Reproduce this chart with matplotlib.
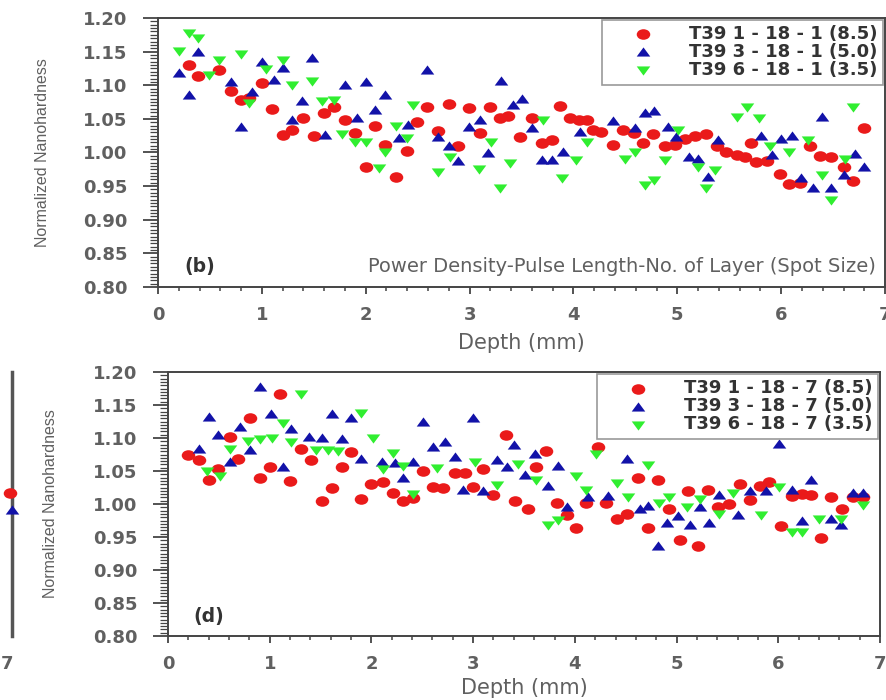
import matplotlib
matplotlib.use("Agg")
import matplotlib.pyplot as plt
from matplotlib.path import Path
from matplotlib.ticker import MultipleLocator, FormatStrFormatter
from matplotlib.transforms import Affine2D

plt.rcParams['font.family'] = ['DejaVu Sans']

# panel (b): T39 x - 18 - 1
b_red_x = [0.30, 0.39, 0.59, 0.70, 0.80, 0.88, 1.00, 1.10, 1.20, 1.29, 1.40, 1.50, 1.60, 1.69,
           1.80, 1.90, 2.00, 2.09, 2.19, 2.29, 2.40, 2.49, 2.59, 2.70, 2.80, 2.89, 2.99, 3.10,
           3.20, 3.29, 3.37, 3.49, 3.60, 3.70, 3.79, 3.87, 3.97, 4.05, 4.13, 4.19, 4.27, 4.38,
           4.48, 4.58, 4.67, 4.77, 4.88, 4.98, 5.07, 5.17, 5.28, 5.38, 5.47, 5.57, 5.65, 5.71,
           5.76, 5.86, 5.99, 6.08, 6.18, 6.28, 6.37, 6.48, 6.60, 6.69, 6.80]
b_red_y = [1.130, 1.114, 1.122, 1.091, 1.078, 1.081, 1.104, 1.064, 1.026, 1.034, 1.052, 1.024,
           1.059, 1.067, 1.049, 1.029, 0.979, 1.039, 1.011, 0.964, 1.002, 1.046, 1.068, 1.032,
           1.072, 1.009, 1.066, 1.029, 1.067, 1.052, 1.054, 1.023, 1.051, 1.014, 1.018, 1.069,
           1.052, 1.049, 1.048, 1.033, 1.031, 1.011, 1.034, 1.029, 1.014, 1.028, 1.009, 1.011,
           1.020, 1.024, 1.028, 1.009, 1.001, 0.996, 0.994, 1.014, 0.986, 0.988, 0.968, 0.953,
           0.955, 1.009, 0.995, 0.994, 0.979, 0.957, 1.036]

b_blue_x = [0.20, 0.30, 0.39, 0.70, 0.80, 0.91, 1.00, 1.12, 1.20, 1.29, 1.39, 1.48, 1.61, 1.80,
            1.92, 2.00, 2.09, 2.19, 2.32, 2.41, 2.59, 2.70, 2.80, 2.89, 2.99, 3.10, 3.18, 3.30,
            3.42, 3.50, 3.60, 3.70, 3.79, 3.90, 4.06, 4.38, 4.59, 4.69, 4.78, 4.91, 4.99, 5.11,
            5.20, 5.30, 5.39, 5.81, 5.91, 6.00, 6.10, 6.19, 6.31, 6.39, 6.48, 6.60, 6.71, 6.80]
b_blue_y = [1.118, 1.085, 1.149, 1.105, 1.038, 1.090, 1.135, 1.108, 1.125, 1.049, 1.076, 1.140,
            1.026, 1.100, 1.052, 1.105, 1.063, 1.085, 1.021, 1.041, 1.123, 1.023, 1.009, 0.988,
            1.038, 1.048, 0.999, 1.106, 1.071, 1.079, 1.036, 0.989, 0.989, 1.001, 1.031, 1.047,
            1.037, 1.058, 1.061, 1.038, 1.023, 0.994, 0.990, 0.964, 1.019, 1.025, 0.996, 1.020,
            1.024, 0.962, 0.947, 1.053, 0.947, 0.967, 0.998, 0.979]

b_green_x = [0.20, 0.30, 0.39, 0.49, 0.59, 0.80, 0.88, 1.04, 1.20, 1.29, 1.48, 1.58, 1.69, 1.77,
             1.90, 2.00, 2.13, 2.19, 2.29, 2.40, 2.46, 2.70, 2.81, 3.09, 3.21, 3.29, 3.39, 3.71,
             3.89, 4.02, 4.13, 4.50, 4.59, 4.69, 4.78, 4.88, 5.01, 5.20, 5.28, 5.36, 5.57, 5.67,
             5.79, 5.89, 6.08, 6.26, 6.39, 6.48, 6.61, 6.69]
b_green_y = [1.151, 1.177, 1.170, 1.115, 1.137, 1.147, 1.074, 1.124, 1.137, 1.100, 1.107, 1.076,
             1.078, 1.028, 1.016, 1.016, 0.977, 1.001, 1.039, 1.021, 1.071, 0.971, 0.994, 0.975,
             1.016, 0.947, 0.984, 1.048, 0.962, 0.989, 1.016, 0.991, 1.001, 0.952, 0.959, 0.989,
             1.033, 0.979, 0.947, 0.974, 1.053, 1.067, 1.052, 1.009, 1.001, 1.019, 0.967, 0.929,
             0.991, 1.067]

# panel (d): T39 x - 18 - 7
d_red_x = [0.20, 0.30, 0.40, 0.49, 0.61, 0.69, 0.81, 0.90, 1.00, 1.10, 1.20, 1.31, 1.41, 1.51,
           1.61, 1.71, 1.80, 1.90, 2.00, 2.11, 2.21, 2.31, 2.41, 2.51, 2.61, 2.70, 2.82, 2.92,
           3.00, 3.10, 3.20, 3.32, 3.41, 3.54, 3.62, 3.72, 3.82, 3.92, 4.01, 4.11, 4.23, 4.31,
           4.41, 4.51, 4.62, 4.72, 4.82, 4.93, 5.03, 5.11, 5.21, 5.31, 5.41, 5.52, 5.62, 5.72,
           5.82, 5.91, 6.03, 6.13, 6.23, 6.32, 6.42, 6.52, 6.63, 6.73, 6.83]
d_red_y = [1.074, 1.067, 1.036, 1.053, 1.101, 1.068, 1.130, 1.040, 1.056, 1.167, 1.035, 1.083,
           1.067, 1.005, 1.025, 1.056, 1.079, 1.007, 1.030, 1.034, 1.017, 1.004, 1.009, 1.050,
           1.026, 1.024, 1.047, 1.047, 1.026, 1.053, 1.014, 1.104, 1.005, 0.993, 1.056, 1.081,
           1.002, 0.983, 0.963, 1.002, 1.087, 1.002, 0.978, 0.985, 1.040, 0.963, 1.037, 0.993,
           0.946, 1.019, 0.936, 1.021, 0.995, 1.000, 1.030, 1.006, 1.027, 1.034, 0.967, 1.012,
           1.015, 1.014, 0.948, 1.010, 0.992, 1.010, 1.010]

d_blue_x = [0.30, 0.40, 0.49, 0.61, 0.71, 0.81, 0.90, 1.01, 1.13, 1.21, 1.39, 1.51, 1.61, 1.71,
            1.80, 1.90, 2.10, 2.23, 2.31, 2.41, 2.51, 2.61, 2.72, 2.82, 2.90, 3.00, 3.10, 3.23,
            3.33, 3.40, 3.51, 3.61, 3.74, 3.83, 3.92, 4.13, 4.33, 4.51, 4.64, 4.72, 4.82, 4.91,
            5.01, 5.13, 5.23, 5.32, 5.42, 5.60, 5.72, 5.88, 6.01, 6.13, 6.23, 6.32, 6.52, 6.62,
            6.73, 6.83]
d_blue_y = [1.084, 1.132, 1.105, 1.064, 1.117, 1.082, 1.178, 1.137, 1.056, 1.113, 1.101, 1.100,
            1.137, 1.098, 1.130, 1.068, 1.064, 1.062, 1.040, 1.063, 1.125, 1.087, 1.094, 1.072,
            1.021, 1.131, 1.019, 1.066, 1.056, 1.090, 1.044, 1.076, 1.027, 1.058, 0.996, 1.010,
            1.012, 1.068, 0.993, 0.997, 0.936, 0.971, 0.982, 0.968, 0.996, 0.971, 1.014, 0.983,
            1.019, 1.019, 1.091, 1.021, 0.975, 1.036, 0.978, 0.968, 1.017, 1.017]

d_green_x = [0.38, 0.51, 0.61, 0.79, 0.90, 1.02, 1.13, 1.21, 1.31, 1.46, 1.57, 1.67, 1.90, 2.02,
             2.11, 2.21, 2.31, 2.41, 2.64, 3.02, 3.23, 3.44, 3.62, 3.74, 3.83, 4.01, 4.11, 4.21,
             4.41, 4.52, 4.72, 4.83, 4.93, 5.10, 5.23, 5.42, 5.55, 5.83, 6.01, 6.13, 6.23, 6.40,
             6.62, 6.83]
d_green_y = [1.050, 1.042, 1.084, 1.096, 1.098, 1.100, 1.123, 1.094, 1.167, 1.082, 1.082, 1.081,
             1.138, 1.100, 1.053, 1.078, 1.058, 1.015, 1.054, 1.063, 1.029, 1.061, 1.037, 0.968,
             0.976, 1.042, 1.022, 1.076, 1.032, 1.010, 1.059, 1.002, 1.011, 0.995, 1.007, 0.985,
             1.016, 0.983, 1.026, 0.958, 0.958, 0.977, 0.977, 0.998]

# last points of neighbouring panel (c), cut by the left border
c_red_x, c_red_y = [7.03], [1.017]
c_blue_x, c_blue_y = [7.05], [0.991]

b_labels = ["T39 1 - 18 - 1 (8.5)", "T39 3 - 18 - 1 (5.0)", "T39 6 - 18 - 1 (3.5)"]
d_labels = ["T39 1 - 18 - 7 (8.5)", "T39 3 - 18 - 7 (5.0)", "T39 6 - 18 - 7 (3.5)"]

RED = '#ea1a1a'
BLUE = '#1212a8'
GREEN = '#30ee30'
GREY = '#606060'
DARK = '#444444'

# the source figure is stretched sideways, so the markers are too
ELLIPSE = Path.unit_circle().transformed(Affine2D().scale(1.0, 0.78))
TRI_UP = [(-1.0, -0.6), (1.0, -0.6), (0.0, 0.75)]
TRI_DOWN = [(-1.0, 0.6), (1.0, 0.6), (0.0, -0.75)]
STYLES = [(RED, ELLIPSE), (BLUE, TRI_UP), (GREEN, TRI_DOWN)]


def draw_panel(ax, series, labels, tag, ylab_x, xlab_y, note=None):
    for (x, y), lab, (c, m) in zip(series, labels, STYLES):
        ax.scatter(x, y, s=95, c=c, marker=m, linewidths=0, label=lab, zorder=3)
    ax.set_xlim(0, 7)
    ax.set_ylim(0.80, 1.20)
    ax.xaxis.set_major_locator(MultipleLocator(1))
    ax.xaxis.set_minor_locator(MultipleLocator(0.2))
    ax.yaxis.set_major_locator(MultipleLocator(0.05))
    ax.yaxis.set_minor_locator(MultipleLocator(0.005))
    ax.yaxis.set_major_formatter(FormatStrFormatter('%.2f'))
    ax.tick_params(which='both', direction='out', color=DARK, labelcolor=GREY, labelsize=13)
    ax.tick_params(axis='x', which='major', length=5, width=1.3, pad=9)
    ax.tick_params(axis='x', which='minor', length=3, width=1.1)
    ax.tick_params(axis='y', which='major', length=11, width=1.3, pad=11)
    ax.tick_params(axis='y', which='minor', length=6, width=0.9)
    for lbl in ax.get_xticklabels() + ax.get_yticklabels():
        lbl.set_fontweight('bold')
    for sp in ax.spines.values():
        sp.set_color(DARK)
        sp.set_linewidth(1.4)
    ax.set_xlabel("Depth (mm)", fontsize=15, color=GREY)
    ax.xaxis.set_label_coords(0.5, xlab_y)
    ax.set_ylabel("Normalized Nanohardness", fontsize=11.5, color=GREY,
                  family=['Liberation Sans Narrow', 'Liberation Sans', 'DejaVu Sans'])
    ax.yaxis.set_label_coords(ylab_x, 0.5)
    leg = ax.legend(loc='upper right', borderaxespad=0.1, frameon=True, fancybox=False,
                    framealpha=1, edgecolor='#999999', handlelength=4.0, handletextpad=0.55,
                    labelspacing=0.0, borderpad=0.3, prop={'weight': 'bold', 'size': 13})
    leg.get_frame().set_linewidth(1.2)
    for t in leg.get_texts():
        t.set_color('#333333')
    ax.text(0.036, 0.055, tag, transform=ax.transAxes, fontsize=13.5, fontweight='bold',
            color='#333333')
    if note:
        ax.text(0.987, 0.055, note, transform=ax.transAxes, fontsize=14, color=GREY,
                ha='right')


fig = plt.figure(figsize=(8.87, 7.0), dpi=100)

ax_b = fig.add_axes([0.1781, 0.590, 0.8197, 0.3843])
draw_panel(ax_b, [(b_red_x, b_red_y), (b_blue_x, b_blue_y), (b_green_x, b_green_y)],
           b_labels, "(b)", -0.149, -0.172,
           "Power Density-Pulse Length-No. of Layer (Spot Size)")

ax_d = fig.add_axes([0.1894, 0.0914, 0.8027, 0.3771])
draw_panel(ax_d, [(d_red_x, d_red_y), (d_blue_x, d_blue_y), (d_green_x, d_green_y)],
           d_labels, "(d)", -0.154, -0.160)

# right edge of the neighbouring panel (c)
ax_c = fig.add_axes([-0.789, 0.0914, 0.8027, 0.3771])
ax_c.set_xlim(0, 7.05)
ax_c.set_ylim(0.80, 1.20)
ax_c.scatter(c_red_x, c_red_y, s=95, c=RED, marker=ELLIPSE, linewidths=0, zorder=3,
             clip_on=False)
ax_c.scatter(c_blue_x, c_blue_y, s=95, c=BLUE, marker=TRI_UP, linewidths=0, zorder=3,
             clip_on=False)
for side in ['top', 'left', 'bottom']:
    ax_c.spines[side].set_visible(False)
ax_c.spines['right'].set_color('#555555')
ax_c.spines['right'].set_linewidth(2.5)
ax_c.set_yticks([])
ax_c.set_xticks([7])
ax_c.tick_params(axis='x', length=0, labelsize=13, labelcolor=GREY, pad=14)
for lbl in ax_c.get_xticklabels():
    lbl.set_fontweight('bold')
ax_c.patch.set_alpha(0)

fig.savefig("out.png", dpi=100)
